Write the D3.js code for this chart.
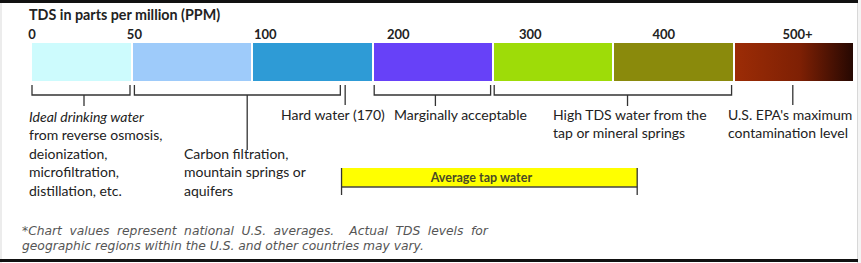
<!DOCTYPE html>
<html>
<head>
<meta charset="utf-8">
<script src="https://cdn.jsdelivr.net/npm/d3@7"></script>
<style>
  body { margin: 0; background: #fff; }
  svg { display: block; }
</style>
</head>
<body>
<div id="chart"></div>
<script>
// scale segments (TDS ppm)
var segStart = [0, 50, 100, 200, 300, 400, 500];
var segEnd = [50, 100, 200, 300, 400, 500, 600];
var segColors = ["#cdfbfd", "#9ecbfa", "#2e9bd6", "#6741f8", "#9edc08", "#8a8a0c", "url(#hot)"];

// tick labels and where they sit (ppm units)
var tickLabels = ["0", "50", "100", "200", "300", "400", "500+"];
var tickAt = [0, 51, 111, 221, 331, 442, 553];

// brackets under the bar
var bracketFrom = [0, 51, 201, 301];
var bracketTo = [49, 173, 298, 498];
var bracketStem = [26, 98, 252, 412];

// single markers (hard water, EPA limit)
var markerAt = [177, 549];

// average tap water range
var tapRange = [174, 420];

var noteLines = [
  ["Ideal drinking water", "from reverse osmosis,", "deionization,", "microfiltration,", "distillation, etc."],
  ["Carbon filtration,", "mountain springs or", "aquifers"],
  ["Hard water (170)"],
  ["Marginally acceptable"],
  ["High TDS water from the", "tap or mineral springs"],
  ["U.S. EPA's maximum", "contamination level"]
];

var footnote = [
  "*Chart values represent national U.S. averages.  Actual TDS levels for",
  "geographic regions within the U.S. and other countries may vary."
];

var W = 861, H = 263;
var barTop = 43, barBottom = 81;

var x = d3.scaleLinear()
  .domain([0, 50, 100, 200, 300, 400, 500, 600])
  .range([32, 132, 252, 373, 493, 613, 734, 854]);

var svg = d3.select("#chart").append("svg")
  .attr("width", W)
  .attr("height", H)
  .style("font-family", "Lato, 'Open Sans', sans-serif");

var defs = svg.append("defs");
var grad = defs.append("linearGradient").attr("id", "hot");
grad.append("stop").attr("offset", "0%").attr("stop-color", "#9c2c06");
grad.append("stop").attr("offset", "55%").attr("stop-color", "#7e2004");
grad.append("stop").attr("offset", "100%").attr("stop-color", "#260802");

// frame
svg.append("rect").attr("x", 0).attr("y", 0).attr("width", W).attr("height", H).attr("fill", "#fff");
svg.append("line").attr("x1", 1).attr("x2", 1).attr("y1", 0).attr("y2", H)
  .attr("stroke", "#ececec").attr("stroke-width", 2);
svg.append("line").attr("x1", 857.5).attr("x2", 857.5).attr("y1", 0).attr("y2", H)
  .attr("stroke", "#d8d8d8").attr("stroke-width", 1);
svg.append("rect").attr("x", 858).attr("y", 0).attr("width", 3).attr("height", H).attr("fill", "#f4f4f4");
svg.append("rect").attr("x", 0).attr("y", 0).attr("width", 858).attr("height", 3).attr("fill", "#111");
svg.append("rect").attr("x", 0).attr("y", 259).attr("width", 858).attr("height", 3).attr("fill", "#111");

// title
svg.append("text")
  .attr("x", 29).attr("y", 20)
  .attr("font-size", "14.3px")
  .attr("font-weight", "bold")
  .attr("fill", "#222")
  .text("TDS in parts per million (PPM)");

// tick labels
svg.selectAll(".tick-label")
  .data(tickLabels)
  .enter().append("text")
    .attr("class", "tick-label")
    .attr("x", function(d, i) { return x(tickAt[i]); })
    .attr("y", 39)
    .attr("text-anchor", "middle")
    .attr("font-size", "13px")
    .attr("font-weight", "bold")
    .attr("fill", "#222")
    .text(function(d) { return d; });

// colour segments
svg.selectAll(".seg")
  .data(segStart)
  .enter().append("rect")
    .attr("class", "seg")
    .attr("x", function(d, i) { return x(d) + (i ? 1 : 0); })
    .attr("y", barTop)
    .attr("width", function(d, i) { return x(segEnd[i]) - x(d) - (i ? 2 : 1); })
    .attr("height", barBottom - barTop)
    .attr("fill", function(d, i) { return segColors[i]; });

// brackets
var bY0 = 85, bY1 = 95, bStemEnd = 106;
var lineCol = "#333";
bracketFrom.forEach(function(f, i) {
  var x0 = x(f), x1 = x(bracketTo[i]), xs = x(bracketStem[i]);
  svg.append("path")
    .attr("d", "M" + x0 + "," + bY0 + "V" + bY1 + "H" + x1 + "V" + bY0)
    .attr("fill", "none").attr("stroke", lineCol).attr("stroke-width", 1.3);
  var stemEnd = i === 1 ? 150 : bStemEnd;
  svg.append("line")
    .attr("x1", xs).attr("x2", xs).attr("y1", bY1).attr("y2", stemEnd)
    .attr("stroke", lineCol).attr("stroke-width", 1.3);
});

svg.selectAll(".marker")
  .data(markerAt)
  .enter().append("line")
    .attr("class", "marker")
    .attr("x1", function(d) { return x(d); })
    .attr("x2", function(d) { return x(d); })
    .attr("y1", bY0).attr("y2", 105)
    .attr("stroke", lineCol).attr("stroke-width", 1.3);

// annotation text, all left aligned
var lh = 18.4;
var noteLayout = [
  {x: 29, y: 122},
  {x: 184, y: 122 + 2 * lh},
  {x: 281, y: 120},
  {x: 394, y: 120},
  {x: 553, y: 120},
  {x: 728, y: 120}
];
noteLines.forEach(function(lines, i) {
  var L = noteLayout[i];
  var t = svg.append("text")
    .attr("x", L.x).attr("y", L.y)
    .attr("font-size", "14px")
    .attr("fill", "#222");
  lines.forEach(function(s, k) {
    t.append("tspan")
      .attr("x", L.x)
      .attr("y", L.y + k * lh)
      .attr("font-style", i === 0 && k === 0 ? "italic" : null)
      .text(s);
  });
});

// average tap water band
var tapTop = 168, tapBottom = 187;
svg.append("rect")
  .attr("x", x(tapRange[0])).attr("y", tapTop)
  .attr("width", x(tapRange[1]) - x(tapRange[0]))
  .attr("height", tapBottom - tapTop)
  .attr("fill", "#ffff00");
svg.append("line")
  .attr("x1", x(tapRange[0])).attr("x2", x(tapRange[1]))
  .attr("y1", tapBottom).attr("y2", tapBottom)
  .attr("stroke", "#444").attr("stroke-width", 1.3);
tapRange.forEach(function(v) {
  svg.append("line")
    .attr("x1", x(v)).attr("x2", x(v))
    .attr("y1", tapTop).attr("y2", 195)
    .attr("stroke", "#333").attr("stroke-width", 1.3);
});
svg.append("text")
  .attr("x", (x(tapRange[0]) + x(tapRange[1])) / 2 - 8)
  .attr("y", 182)
  .attr("text-anchor", "middle")
  .attr("font-size", "12.5px")
  .attr("font-weight", "bold")
  .attr("fill", "#4a4a26")
  .text("Average tap water");

// footnote
svg.selectAll(".foot")
  .data(footnote)
  .enter().append("text")
    .attr("class", "foot")
    .attr("x", 22)
    .attr("y", function(d, i) { return 235 + i * 15; })
    .attr("font-family", "'DejaVu Sans', Verdana, sans-serif")
    .attr("font-style", "italic")
    .attr("font-size", "12.3px")
    .attr("fill", "#555")
    .attr("word-spacing", function(d, i) { return i === 0 ? "3.6px" : null; })
    .style("white-space", "pre")
    .text(function(d) { return d; });
</script>
</body>
</html>
